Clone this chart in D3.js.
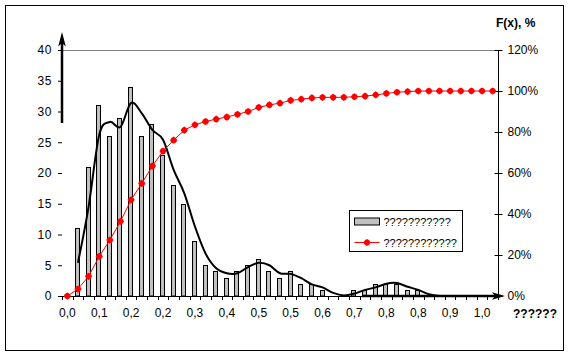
<!DOCTYPE html>
<html><head><meta charset="utf-8">
<script src="https://cdn.jsdelivr.net/npm/d3@7/dist/d3.min.js"></script>
<style>body{margin:0;background:#fff} text{font-family:"Liberation Sans",Arial,sans-serif;fill:#000}</style>
</head><body><svg id="c" width="568" height="355"></svg>
<script>
// ---- data ----
const categories = [0,0.025,0.05,0.075,0.1,0.125,0.15,0.175,0.2,0.225,0.25,0.275,0.3,0.325,0.35,0.375,0.4,0.425,0.45,0.475,0.5,0.525,0.55,0.575,0.6,0.625,0.65,0.675,0.7,0.725,0.75,0.775,0.8,0.825,0.85,0.875,0.9,0.925,0.95,0.975,1.0];
const xTickLabels = ["0,0","0,1","0,2","0,2","0,3","0,4","0,5","0,5","0,6","0,7","0,8","0,8","0,9","1,0"];
const counts = [0,11,21,31,26,29,34,26,28,23,18,15,9,5,4,3,4,5,6,4,3,4,2,2,1,0,0,1,1,2,2,2,1,1,0,0,0,0,0,0,0];
const smooth = [null,5.4,14.5,26.2,28.3,27.5,31.4,29.7,27.0,25.4,20.5,16.7,11.3,6.9,4.5,3.7,3.7,4.7,5.4,5.0,3.7,3.6,2.9,1.9,1.4,0.5,0.1,0.4,1.0,1.4,2.0,2.1,1.5,1.0,0.3,0,0,0,0,0,0];
const cdf = [0,3.4,9.6,19.3,27.3,36.4,46.9,54.9,63.4,70.7,76.0,80.9,83.5,85.1,86.3,87.3,88.6,90.0,92.0,93.2,94.1,95.4,96.0,96.6,96.9,96.9,96.9,97.2,97.5,98.1,98.8,99.4,99.7,100,100,100,100,100,100,100,100];
const leftTicks = [0,5,10,15,20,25,30,35,40];
const rightTicks = [0,20,40,60,80,100,120];
const legendLabels = ["???????????","????????????"];
const xTitle = "??????";
const yRightTitle = "F(x), %";

// ---- layout ----
const svg = d3.select("#c");
const L = 62, R = 498, T = 50, B = 296;
const x = d3.scaleBand().domain(d3.range(categories.length)).range([L, R]).padding(0);
const yL = d3.scaleLinear().domain([0, 40]).range([B, T]);
const yR = d3.scaleLinear().domain([0, 120]).range([B, T]);
const bw = x.bandwidth();
const cx = i => x(i) + bw / 2;

// outer frame
svg.append("rect").attr("x", 5.5).attr("y", 5.5).attr("width", 558).attr("height", 345)
  .attr("fill", "#fff").attr("stroke", "#000").attr("stroke-width", 1);

// top gridline
svg.append("line").attr("x1", L).attr("x2", R + 1).attr("y1", yL(40) + 0.5).attr("y2", yL(40) + 0.5)
  .attr("stroke", "#808080");

// left axis (ticks only)
const gl = svg.append("g").attr("transform", `translate(${L},0)`)
  .call(d3.axisLeft(yL).tickValues(leftTicks).tickSize(4).tickPadding(6).tickFormat(d3.format("d")));
gl.select(".domain").remove();
gl.selectAll("text").style("font-size", "12px").style("letter-spacing", "0.6px");
gl.selectAll("line").attr("stroke", "#000");

// right axis
const gr = svg.append("g").attr("transform", `translate(${R + 0.5},0)`)
  .call(d3.axisRight(yR).tickValues(rightTicks).tickSize(4).tickPadding(5).tickFormat(d => d + "%"));
gr.select(".domain").attr("d", `M0,${yR(120)}V${yR(0)}`).attr("stroke", "#000");
gr.selectAll(".tick line").attr("x1", -4).attr("stroke", "#000");
gr.selectAll("text").style("font-size", "12px");

// x axis baseline + boundary ticks
svg.append("line").attr("x1", L - 4).attr("x2", R).attr("y1", B + 0.5).attr("y2", B + 0.5).attr("stroke", "#000");
svg.append("g").selectAll("line").data(d3.range(categories.length + 1)).join("line")
  .attr("x1", i => Math.round(L + i * bw) + 0.5).attr("x2", i => Math.round(L + i * bw) + 0.5)
  .attr("y1", B).attr("y2", B + 4).attr("stroke", "#000");
// x labels every 3 categories
svg.append("g").selectAll("text").data(xTickLabels).join("text")
  .attr("x", (d, k) => cx(k * 3)).attr("y", 317).attr("text-anchor", "middle")
  .style("font-size", "12px").text(d => d);

// bars
const barData = counts.map((v, i) => ({ i, v })).filter(d => d.v > 0);
svg.append("g").selectAll("rect").data(barData).join("rect")
  .attr("x", d => Math.round(cx(d.i) - 3) + 0.5)
  .attr("y", d => Math.round(yL(d.v)) + 0.5)
  .attr("width", 4)
  .attr("height", d => yL(0) - Math.round(yL(d.v)) - 0.5)
  .attr("fill", "#c0c0c0").attr("stroke", "#000").attr("stroke-width", 1);

// smooth line
const sline = d3.line().defined(d => d != null).x((d, i) => cx(i)).y(d => yL(d)).curve(d3.curveCatmullRom.alpha(0));
svg.append("path").datum(smooth).attr("d", sline).attr("fill", "none").attr("stroke", "#000").attr("stroke-width", 2);

// cdf line + markers
const cline = d3.line().x((d, i) => cx(i)).y(d => yR(d));
svg.append("path").datum(cdf).attr("d", cline).attr("fill", "none").attr("stroke", "#ff0000").attr("stroke-width", 1);
const diamond = "M0,-3.6L2.2,-2.2L3.6,0L2.2,2.2L0,3.6L-2.2,2.2L-3.6,0L-2.2,-2.2Z";
svg.append("g").selectAll("path").data(cdf).join("path")
  .attr("transform", (d, i) => `translate(${cx(i)},${yR(d)})`).attr("d", diamond).attr("fill", "#ff0000");

// thick drawn arrows
svg.append("line").attr("x1", L).attr("x2", L).attr("y1", 123).attr("y2", 40)
  .attr("stroke", "#000").attr("stroke-width", 2.5);
svg.append("path").attr("d", `M${L},32L${L + 3.8},46.5L${L},43L${L - 3.8},46.5Z`).attr("fill", "#000");
svg.append("line").attr("x1", 362).attr("x2", 497).attr("y1", B).attr("y2", B)
  .attr("stroke", "#000").attr("stroke-width", 2.5);
svg.append("path").attr("d", `M505,${B}L492,${B - 3.8}L495,${B}L492,${B + 3.8}Z`).attr("fill", "#000");

// titles
svg.append("text").attr("x", 496).attr("y", 27).style("font-size", "12px").style("font-weight", "bold").text(yRightTitle);
svg.append("text").attr("x", 513).attr("y", 318).style("font-size", "12px").style("font-weight", "bold").text(xTitle);

// legend
const lg = svg.append("g").attr("transform", "translate(349.5,210.5)");
lg.append("rect").attr("width", 113).attr("height", 41).attr("fill", "#fff").attr("stroke", "#000");
lg.append("rect").attr("x", 5).attr("y", 7.5).attr("width", 25).attr("height", 7).attr("fill", "#c0c0c0").attr("stroke", "#000");
lg.append("text").attr("x", 34).attr("y", 15.5).style("font-size", "11px").text(legendLabels[0]);
lg.append("line").attr("x1", 5).attr("x2", 30).attr("y1", 32).attr("y2", 32).attr("stroke", "#ff0000");
lg.append("path").attr("transform", "translate(17.5,32)").attr("d", diamond).attr("fill", "#ff0000");
lg.append("text").attr("x", 34).attr("y", 36).style("font-size", "11px").text(legendLabels[1]);
</script></body></html>
